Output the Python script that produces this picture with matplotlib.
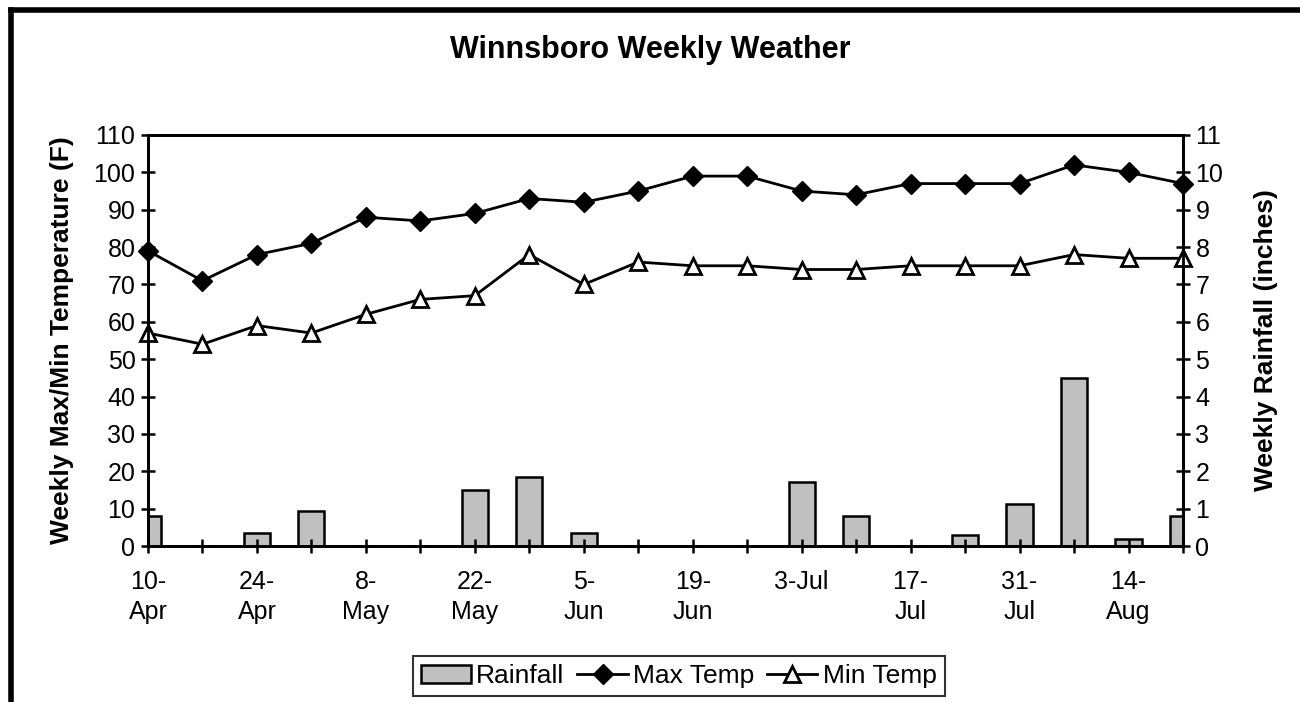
import matplotlib
matplotlib.use("Agg")
import matplotlib.pyplot as plt
from matplotlib.patches import Patch
from matplotlib.lines import Line2D

plt.rcParams["font.family"] = ["Liberation Sans", "DejaVu Sans"]

weeks = ["10-Apr", "17-Apr", "24-Apr", "1-May", "8-May", "15-May", "22-May",
         "29-May", "5-Jun", "12-Jun", "19-Jun", "26-Jun", "3-Jul", "10-Jul",
         "17-Jul", "24-Jul", "31-Jul", "7-Aug", "14-Aug", "21-Aug"]
tick_labels = ["10-\nApr", "", "24-\nApr", "", "8-\nMay", "", "22-\nMay", "",
               "5-\nJun", "", "19-\nJun", "", "3-Jul\n", "", "17-\nJul", "",
               "31-\nJul", "", "14-\nAug", ""]
max_temp = [79, 71, 78, 81, 88, 87, 89, 93, 92, 95, 99, 99, 95, 94, 97, 97, 97, 102, 100, 97]
min_temp = [57, 54, 59, 57, 62, 66, 67, 78, 70, 76, 75, 75, 74, 74, 75, 75, 75, 78, 77, 77]
rainfall = [0.8, 0, 0.35, 0.93, 0, 0, 1.5, 1.85, 0.35, 0, 0, 0, 1.7, 0.8, 0, 0.3, 1.13, 4.5, 0.2, 0.8]

x = list(range(len(weeks)))

fig = plt.figure(figsize=(13, 7.02), dpi=100)
ax = fig.add_axes([0.1138, 0.2222, 0.7962, 0.5855])
ax2 = ax.twinx()

# rain bars on the right axis, drawn behind the temperature lines
ax2.bar(x, rainfall, width=0.48, color="#c0c0c0", edgecolor="black", linewidth=1.8)
ax.set_zorder(ax2.get_zorder() + 1)
ax.patch.set_visible(False)

ax.plot(x, max_temp, color="black", lw=2, marker="D", markersize=10,
        markerfacecolor="black", markeredgecolor="black", clip_on=False)
ax.plot(x, min_temp, color="black", lw=2, marker="^", markersize=11,
        markerfacecolor="white", markeredgecolor="black", markeredgewidth=2, clip_on=False)

ax.set_xlim(0, len(weeks) - 1)
ax.set_ylim(0, 110)
ax.set_yticks(range(0, 111, 10))
ax2.set_ylim(0, 11)
ax2.set_yticks(range(0, 12))
ax.set_xticks(x)
ax.set_xticklabels(tick_labels, fontsize=18, linespacing=1.35)

for a in (ax, ax2):
    for s in a.spines.values():
        s.set_linewidth(2)
        s.set_color("black")
    a.tick_params(direction="inout", length=10, width=1.8, labelsize=18, pad=4)
ax.tick_params(axis="x", pad=12)

ax.set_ylabel("Weekly Max/Min Temperature (F)", fontsize=19, fontweight="bold", labelpad=14)
ax2.set_ylabel("Weekly Rainfall (inches)", fontsize=19, fontweight="bold", labelpad=22)

fig.text(0.5, 0.929, "Winnsboro Weekly Weather", ha="center", va="center",
         fontsize=22, fontweight="bold")

handles = [
    Patch(facecolor="#c0c0c0", edgecolor="black", linewidth=1.8, label="Rainfall"),
    Line2D([], [], color="black", lw=2, marker="D", markersize=10, label="Max Temp"),
    Line2D([], [], color="black", lw=2, marker="^", markersize=11,
           markerfacecolor="white", markeredgewidth=2, label="Min Temp"),
]
leg = fig.legend(handles=handles, loc="center", bbox_to_anchor=(0.522, 0.037), ncol=3,
                 fontsize=19, frameon=True, fancybox=False, edgecolor="black",
                 handlelength=1.9, handletextpad=0.2, columnspacing=0.5, borderpad=0.3)
leg.get_frame().set_linewidth(1.5)

# outer chart border (only top and left edges are visible)
fig.add_artist(Line2D([0.0081, 0.0081], [0, 0.986], color="black", lw=4,
                      transform=fig.transFigure, solid_capstyle="projecting"))
fig.add_artist(Line2D([0.0081, 1.0], [0.986, 0.986], color="black", lw=4,
                      transform=fig.transFigure, solid_capstyle="projecting"))

fig.savefig("out.png", dpi=100)
